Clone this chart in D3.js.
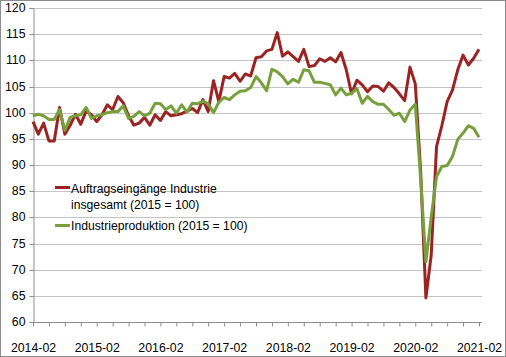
<!DOCTYPE html>
<html><head><meta charset="utf-8">
<script src="https://cdn.jsdelivr.net/npm/d3@7"></script>
<style>body{margin:0;background:#fff}svg{display:block}text{font-family:"Liberation Sans",Arial,sans-serif;fill:#000}</style>
</head><body>
<script>
const startYear = 2014, startMonth = 2, monthCount = 85;
const months = d3.range(monthCount).map(i => {
  const m = startMonth - 1 + i;
  return (startYear + Math.floor(m / 12)) + "-" + String(m % 12 + 1).padStart(2, "0");
});
const seriesNames = ["Auftragseingänge Industrie insgesamt (2015 = 100)", "Industrieproduktion (2015 = 100)"];
const auftrag = [98.3,95.9,98.0,94.6,94.6,101.0,95.9,97.6,99.7,97.8,100.3,99.6,98.3,99.6,101.5,100.6,103.1,101.9,99.4,97.6,
  98.0,99.1,97.6,99.6,98.5,100.2,99.4,99.6,99.8,100.3,100.8,100.0,102.5,100.2,106.1,102.1,106.9,106.6,107.5,106.0,
  107.4,107.0,110.5,110.7,111.8,112.1,115.3,110.8,111.6,110.7,109.8,112.1,108.8,109.0,110.3,109.8,110.5,109.7,111.5,108.2,
  103.6,106.2,105.3,104.0,105.1,105.0,104.1,105.7,104.8,103.6,102.3,108.7,105.5,89.0,64.6,72.8,93.5,97.5,102.1,104.3,
  108.2,111.0,109.1,110.4,112.1];
const produktion = [99.4,99.7,99.4,98.7,98.7,100.6,96.6,99.1,99.4,99.6,101.0,98.9,99.4,99.6,100.0,100.2,100.2,101.3,98.9,99.3,
  100.2,99.4,99.9,101.8,101.7,100.6,101.3,99.9,101.5,100.1,101.8,101.7,102.2,101.7,100.0,102.0,102.9,102.5,103.4,104.1,
  104.2,104.8,106.9,105.7,104.2,108.3,107.8,106.9,105.5,106.4,105.8,108.2,108.0,105.8,105.8,105.6,105.3,103.4,104.7,103.4,
  103.7,104.6,101.8,103.1,102.1,101.6,101.6,100.6,99.5,99.9,98.3,100.5,101.6,87.5,71.5,80.1,87.8,89.7,89.9,91.6,
  94.9,96.1,97.5,97.0,95.3];
const yTicks = [60,65,70,75,80,85,90,95,100,105,110,115,120];
const colors = ["#9b2423", "#77a03c"];

const W = 506, H = 357;
const svg = d3.select("body").append("svg").attr("width", W).attr("height", H);
svg.append("rect").attr("x",0.5).attr("y",0.5).attr("width",W-1).attr("height",H-1)
  .attr("fill","#fff").attr("stroke","#8c8c8c");

const x = d3.scalePoint().domain(months).range([33, 479]);
const y = d3.scaleLinear().domain([60, 120]).range([322, 8]);
const plotRight = 482;

// gridlines
svg.append("g").selectAll("line").data(yTicks.filter(v => v > 60)).join("line")
  .attr("x1", 33).attr("x2", plotRight).attr("y1", d => Math.round(y(d)) + 0.5).attr("y2", d => Math.round(y(d)) + 0.5)
  .attr("stroke", "#c4c4c4").attr("stroke-width", 1);

// y axis
const yAxis = svg.append("g").attr("transform", "translate(33.5,0)")
  .call(d3.axisLeft(y).tickValues(yTicks).tickSize(4).tickPadding(4).tickFormat(d3.format("d")));
yAxis.select(".domain").attr("stroke", "#8c8c8c");
yAxis.selectAll(".tick line").attr("stroke", "#8c8c8c");
yAxis.selectAll("text").attr("font-size", 12.3).style("font-family", '"Liberation Sans",Arial,sans-serif');
yAxis.selectAll(".tick").attr("transform", d => `translate(0,${Math.round(y(d)) + 0.5})`);

// x axis
const xAxis = svg.append("g").attr("transform", "translate(0,322.5)")
  .call(d3.axisBottom(x).tickValues(months.filter((m, i) => i % 3 === 0)).tickSize(4).tickPadding(17)
    .tickFormat((d, i) => (months.indexOf(d) % 12 === 0) ? d : ""));
xAxis.select(".domain").attr("d", `M33,0H${plotRight}`).attr("stroke", "#8c8c8c");
xAxis.selectAll(".tick line").attr("stroke", "#8c8c8c");
xAxis.selectAll("text").attr("font-size", 12.3).style("font-family", '"Liberation Sans",Arial,sans-serif');

// lines
const line = d3.line().x((d, i) => x(months[i])).y(d => y(d));
[auftrag, produktion].forEach((s, k) => {
  svg.append("path").datum(s).attr("d", line).attr("fill", "none")
    .attr("stroke", colors[k]).attr("stroke-width", 3).attr("stroke-linejoin", "round");
});

// legend
const lg = svg.append("g").attr("font-size", 12.2);
lg.append("line").attr("x1", 55).attr("x2", 70).attr("y1", 187.5).attr("y2", 187.5).attr("stroke", colors[0]).attr("stroke-width", 3);
lg.append("text").attr("x", 71).attr("y", 192.5).text("Auftragseingänge Industrie");
lg.append("text").attr("x", 71).attr("y", 209).text("insgesamt (2015 = 100)");
lg.append("line").attr("x1", 55).attr("x2", 70).attr("y1", 225.5).attr("y2", 225.5).attr("stroke", colors[1]).attr("stroke-width", 3);
lg.append("text").attr("x", 71).attr("y", 230).text(seriesNames[1]);
</script>
</body></html>
